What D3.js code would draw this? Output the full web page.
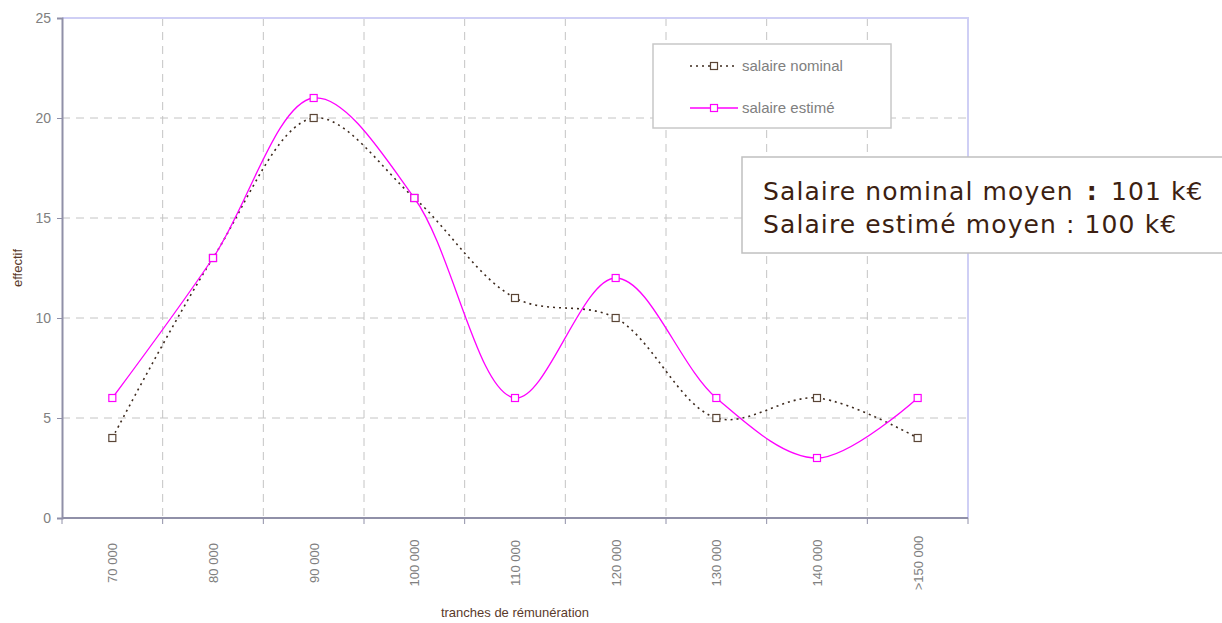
<!DOCTYPE html>
<html>
<head>
<meta charset="utf-8">
<script src="https://cdn.jsdelivr.net/npm/d3@7"></script>
<style>
  body { margin: 0; background: #fff; }
  svg { display: block; }
</style>
</head>
<body>
<div id="chart"></div>
<script>
// data
var categories = ["70 000", "80 000", "90 000", "100 000", "110 000", "120 000", "130 000", "140 000", ">150 000"];
var nominal = [4, 13, 20, 16, 11, 10, 5, 6, 4];
var estime = [6, 13, 21, 16, 6, 12, 6, 3, 6];
var yTicks = [0, 5, 10, 15, 20, 25];
var seriesNames = ["salaire nominal", "salaire estimé"];
var noteLines = [["Salaire nominal moyen ", ":", " 101 k€"], ["Salaire estimé moyen ", ":", " 100 k€"]];

var W = 1222, H = 623;
var margin = { top: 18, right: 254, bottom: 105, left: 62 },
  width = W - margin.left - margin.right,
  height = H - margin.top - margin.bottom;

var svg = d3.select("#chart").append("svg")
  .attr("width", W)
  .attr("height", H);

var g = svg.append("g")
  .attr("transform", "translate(" + margin.left + "," + margin.top + ")");

var x = d3.scaleBand().domain(categories).range([0, width]);
var y = d3.scaleLinear().domain([0, 25]).range([height, 0]);
var cx = function (d, i) { return x(categories[i]) + x.bandwidth() / 2; };

// grid lines
g.selectAll(".hgrid").data(yTicks.filter(function (d) { return d > 0 && d < 25; }))
  .enter().append("line")
  .attr("x1", 0).attr("x2", width)
  .attr("y1", function (d) { return y(d); }).attr("y2", function (d) { return y(d); })
  .attr("stroke", "#c4c4c4").attr("stroke-dasharray", "8,6");

g.selectAll(".vgrid").data(categories.slice(1))
  .enter().append("line")
  .attr("x1", function (d) { return x(d); }).attr("x2", function (d) { return x(d); })
  .attr("y1", 0).attr("y2", height)
  .attr("stroke", "#c4c4c4").attr("stroke-dasharray", "8,6");

// plot border (top/right)
g.append("path")
  .attr("d", "M0,0H" + width + "V" + height)
  .attr("fill", "none").attr("stroke", "#cfcff5").attr("stroke-width", 2);

// y axis
var yAxis = g.append("g")
  .call(d3.axisLeft(y).tickValues(yTicks).tickSize(5).tickPadding(6));
yAxis.select(".domain").attr("stroke", "#9090a8").attr("stroke-width", 2);
yAxis.selectAll(".tick line").attr("stroke", "#9090a8");
yAxis.selectAll("text").attr("fill", "#808080").attr("font-size", "14px")
  .attr("font-family", "Liberation Sans, Arial, sans-serif");

// x axis, ticks on band edges
var xEdges = categories.map(function (d) { return x(d); }).concat([width]);
var xAxis = g.append("g").attr("transform", "translate(0," + height + ")");
xAxis.append("line").attr("x1", 0).attr("x2", width)
  .attr("stroke", "#9090a8").attr("stroke-width", 2);
xAxis.selectAll(".tk").data(xEdges).enter().append("line")
  .attr("x1", function (d) { return d; }).attr("x2", function (d) { return d; })
  .attr("y1", 0).attr("y2", 6).attr("stroke", "#9090a8");
xAxis.selectAll(".lbl").data(categories).enter().append("text")
  .attr("transform", function (d) {
    return "translate(" + (x(d) + x.bandwidth() / 2 + 5) + ",45) rotate(-90)";
  })
  .attr("text-anchor", "middle")
  .attr("fill", "#808080")
  .attr("font-size", "13px")
  .attr("font-family", "Liberation Sans, Arial, sans-serif")
  .text(function (d) { return d; });

// axis titles
svg.append("text")
  .attr("transform", "translate(22," + (margin.top + height / 2) + ") rotate(-90)")
  .attr("text-anchor", "middle")
  .attr("fill", "#5a3a2a").attr("font-size", "13px")
  .attr("font-family", "Liberation Sans, Arial, sans-serif")
  .text("effectif");

svg.append("text")
  .attr("x", margin.left + width / 2).attr("y", 617)
  .attr("text-anchor", "middle")
  .attr("fill", "#5a3a2a").attr("font-size", "13px")
  .attr("font-family", "Liberation Sans, Arial, sans-serif")
  .text("tranches de rémunération");

// lines
var line = d3.line()
  .x(function (d, i) { return cx(d, i); })
  .y(function (d) { return y(d); })
  .curve(d3.curveCatmullRom.alpha(0.5));

g.append("path").datum(nominal)
  .attr("d", line).attr("fill", "none")
  .attr("stroke", "#3d2a1e").attr("stroke-width", 1.6)
  .attr("stroke-dasharray", "2,4");

g.append("path").datum(estime)
  .attr("d", line).attr("fill", "none")
  .attr("stroke", "#ff00ff").attr("stroke-width", 1.3);

// markers
function markers(data, color) {
  g.selectAll(null).data(data).enter().append("rect")
    .attr("x", function (d, i) { return cx(d, i) - 3.5; })
    .attr("y", function (d) { return y(d) - 3.5; })
    .attr("width", 7).attr("height", 7)
    .attr("fill", "#fff").attr("stroke", color).attr("stroke-width", 1.2);
}
markers(nominal, "#5a4536");
markers(estime, "#ff00ff");

// legend
var leg = svg.append("g").attr("transform", "translate(653,44)");
leg.append("rect").attr("width", 238).attr("height", 84)
  .attr("fill", "#fff").attr("stroke", "#c8c8c8").attr("stroke-width", 1.5);
var legStyles = [
  { color: "#3d2a1e", mark: "#5a4536", dash: "2,4", sw: 1.6 },
  { color: "#ff00ff", mark: "#ff00ff", dash: null, sw: 1.3 }
];
seriesNames.forEach(function (name, i) {
  var yy = 22 + i * 42;
  leg.append("line").attr("x1", 37).attr("x2", 85).attr("y1", yy).attr("y2", yy)
    .attr("stroke", legStyles[i].color).attr("stroke-width", legStyles[i].sw)
    .attr("stroke-dasharray", legStyles[i].dash);
  leg.append("rect").attr("x", 57.5).attr("y", yy - 3.5).attr("width", 7).attr("height", 7)
    .attr("fill", "#fff").attr("stroke", legStyles[i].mark).attr("stroke-width", 1.2);
  leg.append("text").attr("x", 89).attr("y", yy + 5)
    .attr("fill", "#808080").attr("font-size", "15px")
    .attr("font-family", "Liberation Sans, Arial, sans-serif")
    .text(name);
});

// text box
var note = svg.append("g").attr("transform", "translate(742,157)");
note.append("rect").attr("width", 482).attr("height", 96)
  .attr("fill", "#fff").attr("stroke", "#c0c0c0").attr("stroke-width", 1.5);
noteLines.forEach(function (parts, i) {
  var t = note.append("text").attr("x", 21).attr("y", 43 + i * 33)
    .attr("fill", "#3d1f12").attr("font-size", "25px")
    .attr("letter-spacing", "1.1px")
    .attr("font-family", "DejaVu Sans, Verdana, sans-serif");
  t.append("tspan").text(parts[0]);
  t.append("tspan").attr("font-weight", i === 0 ? "bold" : "normal")
    .attr("dx", i === 0 ? 4 : 0).text(parts[1]);
  t.append("tspan").attr("dx", i === 0 ? 4 : 0).text(parts[2]);
});
</script>
</body>
</html>
